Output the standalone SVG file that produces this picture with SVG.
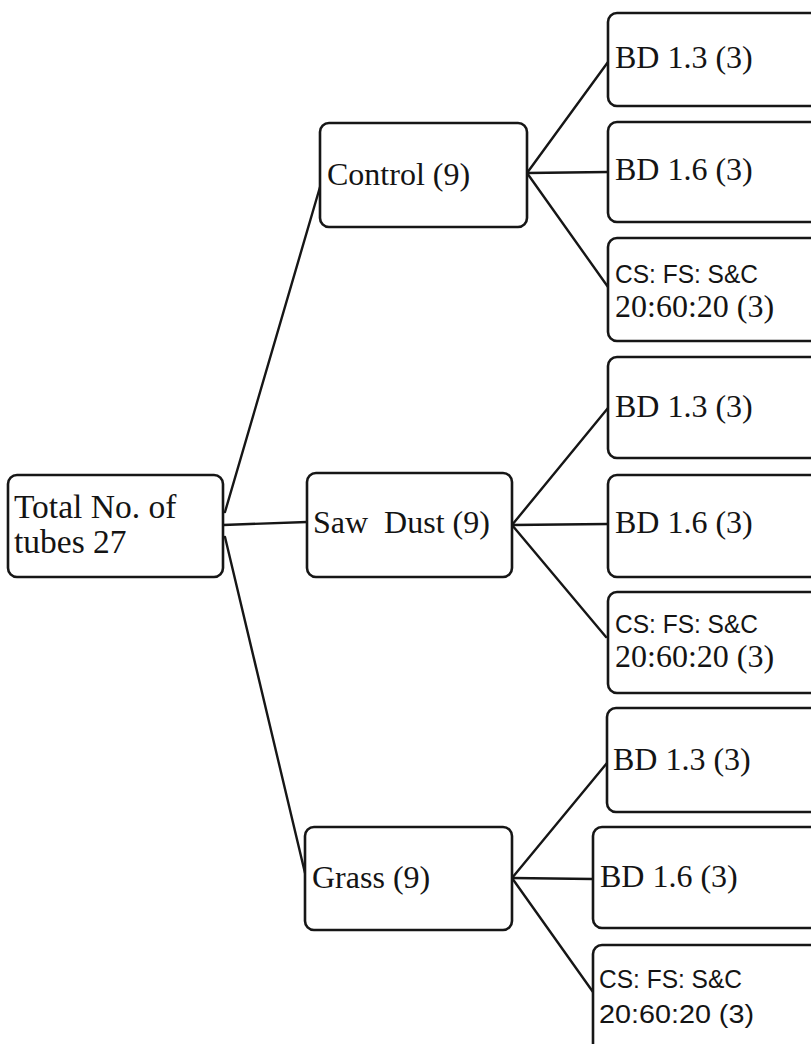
<svg xmlns="http://www.w3.org/2000/svg" width="811" height="1044" viewBox="0 0 811 1044">
<style>
.box{fill:#ffffff;stroke:#161616;stroke-width:2.6}
.ln{stroke:#161616;stroke-width:2.4;fill:none;stroke-linecap:round}
.t{font-family:"Liberation Serif","Times New Roman",serif;font-size:32px;fill:#141414;white-space:pre}
.r{font-size:33.5px}
.s{font-family:"Liberation Sans",Arial,sans-serif;font-size:26.5px;fill:#141414}
</style>
<rect width="811" height="1044" fill="#ffffff"/>
<g id="connectors">
<line class="ln" x1="225" y1="512" x2="320" y2="187"/>
<line class="ln" x1="223" y1="525" x2="307" y2="522"/>
<line class="ln" x1="225" y1="537" x2="305" y2="873"/>
<line class="ln" x1="527" y1="173" x2="608" y2="62"/>
<line class="ln" x1="527" y1="173" x2="608" y2="172"/>
<line class="ln" x1="527" y1="173" x2="608" y2="287"/>
<line class="ln" x1="512" y1="525" x2="608" y2="408"/>
<line class="ln" x1="512" y1="525" x2="608" y2="524"/>
<line class="ln" x1="512" y1="525" x2="606" y2="637"/>
<line class="ln" x1="512" y1="878" x2="607" y2="763"/>
<line class="ln" x1="512" y1="878" x2="593" y2="879"/>
<line class="ln" x1="512" y1="878" x2="593" y2="992"/>
</g>
<g id="root">
<rect class="box" x="8" y="475" width="215" height="102" rx="9"/>
<text class="t r" x="14" y="518">Total No. of</text>
<text class="t r" x="14" y="553">tubes 27</text>
</g>
<g id="control">
<rect class="box" x="320" y="123" width="207" height="104" rx="9"/>
<text class="t" x="327" y="185">Control (9)</text>
</g>
<g id="sawdust">
<rect class="box" x="307" y="473" width="205" height="104" rx="9"/>
<text class="t" x="313" y="533">Saw  Dust (9)</text>
</g>
<g id="grass">
<rect class="box" x="305" y="827" width="207" height="103" rx="9"/>
<text class="t" x="312" y="888">Grass (9)</text>
</g>
<g id="control-bd13">
<rect class="box" x="608" y="13" width="220" height="93" rx="9"/>
<text class="t" x="615" y="68">BD 1.3 (3)</text>
</g>
<g id="control-bd16">
<rect class="box" x="608" y="122" width="220" height="100" rx="9"/>
<text class="t" x="615" y="180">BD 1.6 (3)</text>
</g>
<g id="control-cs">
<rect class="box" x="608" y="238" width="220" height="103" rx="9"/>
<text class="s" x="615" y="283" textLength="143" lengthAdjust="spacingAndGlyphs">CS: FS: S&amp;C</text>
<text class="t" x="615" y="317">20:60:20 (3)</text>
</g>
<g id="sawdust-bd13">
<rect class="box" x="608" y="357" width="220" height="101" rx="9"/>
<text class="t" x="615" y="417">BD 1.3 (3)</text>
</g>
<g id="sawdust-bd16">
<rect class="box" x="608" y="475" width="220" height="102" rx="9"/>
<text class="t" x="615" y="533">BD 1.6 (3)</text>
</g>
<g id="sawdust-cs">
<rect class="box" x="608" y="592" width="220" height="101" rx="9"/>
<text class="s" x="615" y="633" textLength="143" lengthAdjust="spacingAndGlyphs">CS: FS: S&amp;C</text>
<text class="t" x="615" y="667">20:60:20 (3)</text>
</g>
<g id="grass-bd13">
<rect class="box" x="607" y="708" width="220" height="104" rx="9"/>
<text class="t" x="613" y="770">BD 1.3 (3)</text>
</g>
<g id="grass-bd16">
<rect class="box" x="593" y="827" width="235" height="101" rx="9"/>
<text class="t" x="600" y="887">BD 1.6 (3)</text>
</g>
<g id="grass-cs">
<rect class="box" x="593" y="945" width="235" height="115" rx="9"/>
<text class="s" x="599" y="988" textLength="143" lengthAdjust="spacingAndGlyphs">CS: FS: S&amp;C</text>
<text class="s" x="599" y="1023" textLength="155" lengthAdjust="spacingAndGlyphs">20:60:20 (3)</text>
</g>
</svg>
